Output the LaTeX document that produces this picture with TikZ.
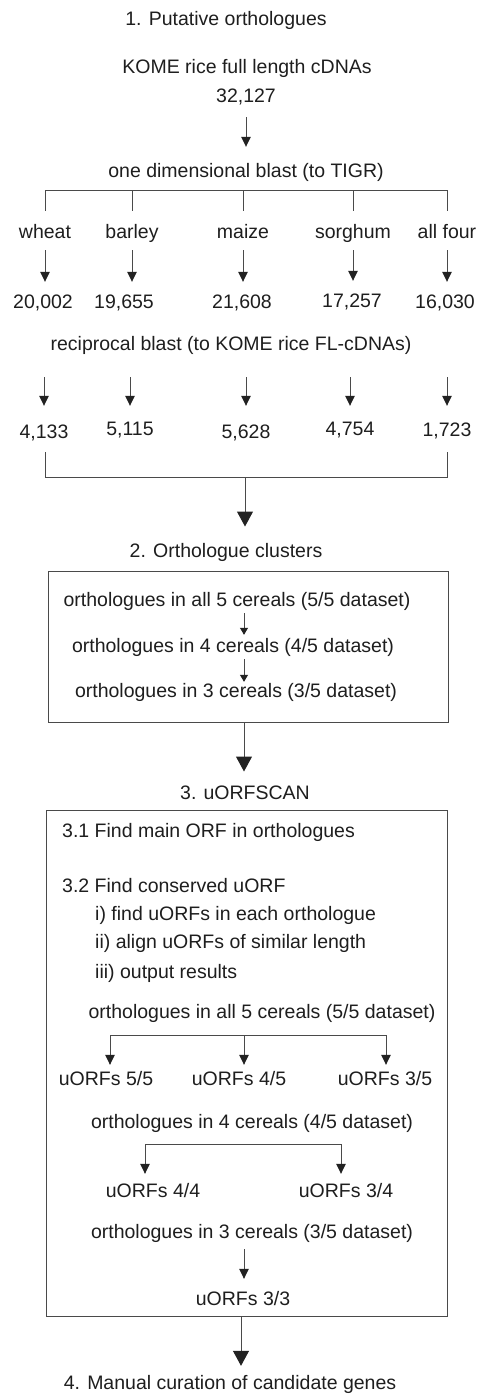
\documentclass[tikz,border=0pt]{standalone}
\usepackage{fontspec}
\setmainfont{Liberation Sans}
\usetikzlibrary{arrows.meta,calc}
\definecolor{txtc}{HTML}{1E1E1E}
\definecolor{linec}{HTML}{4A4A4A}
\definecolor{headc}{HTML}{222222}
\tikzset{
  lbl/.style={inner sep=0pt, text height=14pt, text depth=4pt, font=\fontsize{19.5}{22}\selectfont, text=txtc},
  ln/.style={draw=linec, line width=1pt},
  arr/.style={ln, -{Triangle[width=9.5pt,length=10pt,color=headc]}},
  smarr/.style={ln, -{Triangle[width=8pt,length=7pt,color=headc]}},
  bigarr/.style={ln, -{Triangle[width=16pt,length=15pt,color=headc]}},
  boxst/.style={ln, fill=none, inner sep=0pt, rectangle},
}
\begin{document}
\begin{tikzpicture}[x=1pt,y=-1pt]
\useasboundingbox[fill=white] (0,0) rectangle (481,1395);
% ---- section 1
\node[lbl] (t1) at (226,20) {1. Putative orthologues};
\node[lbl] (kome) at (247,68) {KOME rice full length cDNAs};
\node[lbl] (n0) at (246,97) {32,127};
\node[lbl] (odb) at (246,172) {one dimensional blast (to TIGR)};
\draw[arr, shorten <=11pt, shorten >=16pt] (n0.south) -- (odb.north);

\node[lbl] (wheat) at (45,233) {wheat};
\node[lbl] (barley) at (132,233) {barley};
\node[lbl] (maize) at (243,233) {maize};
\node[lbl] (sorghum) at (353,233) {sorghum};
\node[lbl] (allf) at (447,233) {all four};

\draw[ln] ($(wheat.north)+(0,-13)$) -- ($(wheat.north)+(0,-33)$) -| ($(allf.north)+(0,-13)$);
\foreach \s in {barley,maize,sorghum}{
  \draw[ln] ($(\s.north)+(0,-13)$) -- ($(\s.north)+(0,-33)$);
}

\node[lbl] (a1) at (43,303) {20,002};
\node[lbl] (a2) at (124,303) {19,655};
\node[lbl] (a3) at (242,303) {21,608};
\node[lbl] (a4) at (352,302) {17,257};
\node[lbl] (a5) at (445,303) {16,030};
\draw[arr, shorten <=8pt, shorten >=12pt] (wheat.south) -- (wheat.south |- a1.north);
\draw[arr, shorten <=8pt, shorten >=12pt] (barley.south) -- (barley.south |- a2.north);
\draw[arr, shorten <=8pt, shorten >=12pt] (maize.south) -- (maize.south |- a3.north);
\draw[arr, shorten <=8pt, shorten >=12pt] (sorghum.south) -- (sorghum.south |- a4.north);
\draw[arr, shorten <=8pt, shorten >=12pt] (allf.south) -- (allf.south |- a5.north);

\node[lbl] (rb) at (231,345) {reciprocal blast (to KOME rice FL-cDNAs)};

\node[lbl] (b1) at (44,433) {4,133};
\node[lbl] (b2) at (130,430) {5,115};
\node[lbl] (b3) at (246,433) {5,628};
\node[lbl] (b4) at (350,430) {4,754};
\node[lbl] (b5) at (447,431) {1,723};
\foreach \b in {b1,b2,b3,b4,b5}{
  \draw[arr, shorten <=23pt, shorten >=15pt] (\b.north |- rb.south) -- (\b.north |- b2.north);
}

\coordinate (brkL) at (45,452);
\coordinate (brkR) at (447,452);
\coordinate (brkM) at (245,477);
\draw[ln] (brkL) |- (brkR |- brkM) -- (brkR);

% ---- section 2
\node[lbl] (oc) at (226,552) {2. Orthologue clusters};
\node[boxst, draw, minimum width=400pt, minimum height=151pt] (box1) at (248,646.5) {};
\draw[bigarr, shorten >=44pt] (brkM) -- (brkM |- box1.north);

\node[lbl] (o5) at (237,601) {orthologues in all 5 cereals (5/5 dataset)};
\node[lbl] (o4) at (233,647) {orthologues in 4 cereals (4/5 dataset)};
\node[lbl] (o3) at (236,692) {orthologues in 3 cereals (3/5 dataset)};
\draw[smarr] ($(box1.north |- o5.south)+(-4,3)$) -- ($(box1.north |- o4.north)+(-4,-3)$);
\draw[smarr] ($(box1.north |- o4.south)+(-4,3)$) -- ($(box1.north |- o3.north)+(-4,-1)$);

% ---- section 3
\node[lbl] (us) at (245,794) {3. uORFSCAN};
\node[boxst, draw, minimum width=401pt, minimum height=506pt] (box2) at (246.5,1063) {};
\draw[bigarr, shorten >=38pt] ($(box1.south)+(-4,0)$) -- ($(box1.south |- box2.north)+(-4,0)$);

\node[lbl, anchor=west] (s31) at (62,832) {3.1 Find main ORF in orthologues};
\node[lbl, anchor=west] (s32) at (62,887) {3.2 Find conserved uORF};
\node[lbl, anchor=west] (si) at (95,915) {i) find uORFs in each orthologue};
\node[lbl, anchor=west] (sii) at (95,943) {ii) align uORFs of similar length};
\node[lbl, anchor=west] (siii) at (95,973) {iii) output results};

\node[lbl] (p5) at (262,1013) {orthologues in all 5 cereals (5/5 dataset)};
\node[lbl] (u55) at (106,1080) {uORFs 5/5};
\node[lbl] (u45) at (239,1080) {uORFs 4/5};
\node[lbl] (u35) at (385,1080) {uORFs 3/5};
\coordinate (h5L) at (110,1035);
\coordinate (h5M) at (244,1035);
\coordinate (h5R) at (386,1035);
\draw[ln] (h5L) -- (h5R);
\draw[arr, shorten >=6pt] (h5L) -- (h5L |- u55.north);
\draw[arr, shorten >=6pt] (h5M) -- (h5M |- u45.north);
\draw[arr, shorten >=6pt] (h5R) -- (h5R |- u35.north);

\node[lbl] (p4) at (252,1123) {orthologues in 4 cereals (4/5 dataset)};
\node[lbl] (u44) at (153,1192) {uORFs 4/4};
\node[lbl] (u34) at (346,1192) {uORFs 3/4};
\coordinate (h4L) at (145,1144);
\coordinate (h4R) at (341,1144);
\draw[ln] (h4L) -- (h4R);
\draw[arr, shorten >=9pt] (h4L) -- (h4L |- u44.north);
\draw[arr, shorten >=9pt] (h4R) -- (h4R |- u34.north);

\node[lbl] (p3) at (252,1233) {orthologues in 3 cereals (3/5 dataset)};
\node[lbl] (u33) at (243,1300) {uORFs 3/3};
\draw[arr, shorten <=7pt, shorten >=12pt] ($(p3.south)+(-8,0)$) -- ($(p3.south |- u33.north)+(-8,0)$);

% ---- section 4
\node[lbl] (m4) at (230,1384) {4. Manual curation of candidate genes};
\draw[bigarr, shorten >=9pt] ($(box2.south)+(-5.5,0)$) -- ($(box2.south |- m4.north)+(-5.5,0)$);
\end{tikzpicture}
\end{document}
